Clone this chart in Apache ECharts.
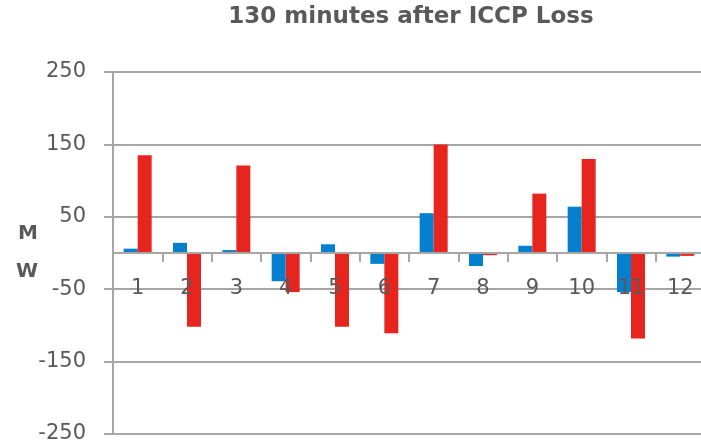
<!DOCTYPE html>
<html>
<head>
<meta charset="utf-8">
<script src="https://cdn.jsdelivr.net/npm/echarts@6/dist/echarts.min.js"></script>
<style>html,body{margin:0;padding:0;background:#fff}#c{width:701px;height:446px}</style>
</head>
<body>
<div id="c"></div>
<script>
var titleText = '130 minutes after ICCP Loss';
var categories = ['1','2','3','4','5','6','7','8','9','10','11','12'];
var seriesBlue = [6, 14, 4, -39, 12, -15, 55, -18, 10, 64, -54, -5];
var seriesRed = [135, -102, 121, -54, -102, -111, 150, -3, 82, 130, -118, -4];
var yTicks = [-250, -150, -50, 50, 150, 250];
var yName = 'M\nW';

var chart = echarts.init(document.getElementById('c'), null, {renderer: 'canvas'});
var txt = '#595959', gridC = '#a6a6a6';
chart.setOption({
  animation: false,
  backgroundColor: '#ffffff',
  title: {
    text: titleText, left: 406, top: 1, textAlign: 'center',
    textStyle: {fontFamily: 'DejaVu Sans', fontWeight: 'bold', fontSize: 23, color: txt}
  },
  grid: {left: 113, right: -4, top: 72, bottom: 12, containLabel: false, outerBoundsMode: 'none'},
  xAxis: {
    type: 'category', data: categories, position: 'bottom', offset: -181, z: 5,
    axisLine: {onZero: false, lineStyle: {color: gridC, width: 2}},
    axisTick: {show: true, length: 9, lineStyle: {color: gridC, width: 2}},
    axisLabel: {margin: 25, fontFamily: 'DejaVu Sans', fontSize: 21, color: txt},
    splitLine: {show: false}
  },
  yAxis: {
    type: 'value', min: -250, max: 250,
    name: yName, nameLocation: 'middle', nameRotate: 0, nameGap: 75, nameMoveOverlap: false,
    nameTextStyle: {fontFamily: 'DejaVu Sans', fontWeight: 'bold', fontSize: 20, color: txt, lineHeight: 38},
    axisLine: {show: true, lineStyle: {color: gridC, width: 2}},
    axisTick: {show: true, length: 9, customValues: yTicks, lineStyle: {color: gridC, width: 2}},
    axisLabel: {margin: 27, customValues: yTicks, fontFamily: 'DejaVu Sans', fontSize: 21, color: txt},
    splitLine: {show: true, lineStyle: {color: gridC, width: 2}}
  },
  series: [
    {type: 'bar', data: seriesBlue, barWidth: 14, barGap: '0%', itemStyle: {color: '#0480CF'}},
    {type: 'bar', data: seriesRed, barWidth: 14, barGap: '0%', itemStyle: {color: '#E6261E'}}
  ]
});
</script>
</body>
</html>
